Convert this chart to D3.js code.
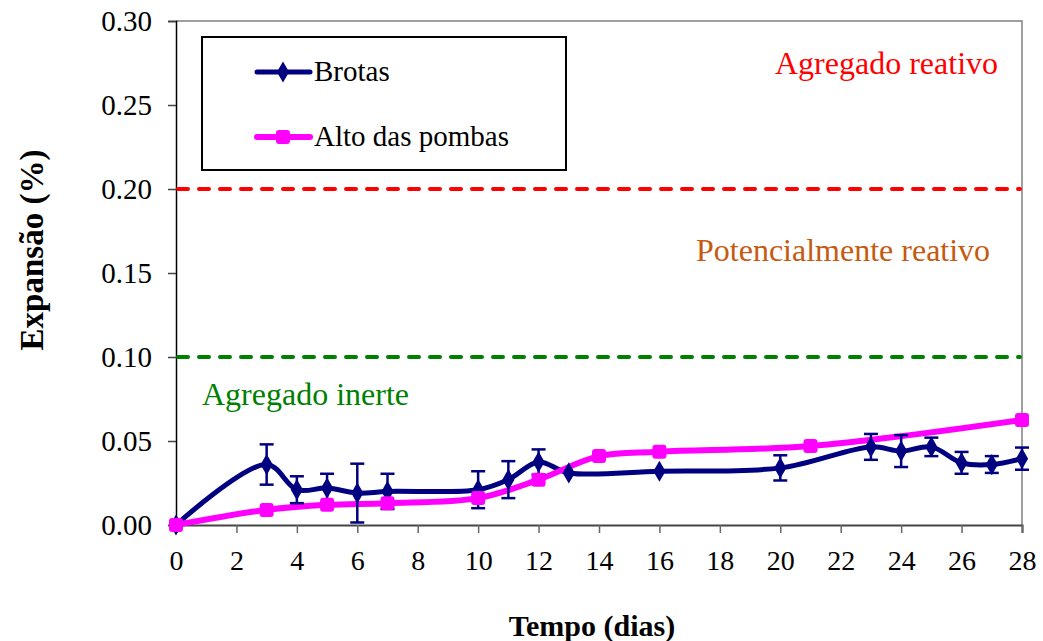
<!DOCTYPE html>
<html>
<head>
<meta charset="utf-8">
<script src="https://cdn.jsdelivr.net/npm/d3@7"></script>
<style>
  html, body { margin: 0; padding: 0; background: #fff; }
  svg { display: block; }
  svg text { font-family: "Liberation Serif", "DejaVu Serif", serif; }
</style>
</head>
<body>
<svg id="chart" width="1043" height="641"></svg>
<script>
// Expansion over time (days) for two aggregates
const brotasDays  = [0, 3, 4, 5, 6, 7, 10, 11, 12, 13, 16, 20, 23, 24, 25, 26, 27, 28];
const brotasVals  = [0.000, 0.036, 0.021, 0.022, 0.019, 0.020, 0.021, 0.027, 0.0375, 0.031, 0.032, 0.034, 0.0465, 0.044, 0.0465, 0.037, 0.036, 0.0395];
const brotasErr   = [0, 0.012, 0.008, 0.0085, 0.0175, 0.0105, 0.011, 0.011, 0.0075, 0, 0, 0.0075, 0.0077, 0.0095, 0.0055, 0.0065, 0.005, 0.0066];

const pombasDays  = [0, 3, 5, 7, 10, 12, 14, 16, 21, 28];
const pombasVals  = [0.000, 0.009, 0.012, 0.013, 0.016, 0.027, 0.041, 0.0436, 0.047, 0.0625];

// Classification limits
const limitValues = [0.10, 0.20];
const limitColors = ["#008000", "#FF0000"];

const xTicks = d3.range(0, 29, 2);
const yTicks = [0, 0.05, 0.10, 0.15, 0.20, 0.25, 0.30];

const SERIF = "Liberation Serif";

const svg = d3.select("#chart");
const margin = { left: 176, right: 21, top: 21, bottom: 116 };
const W = 1043, H = 641;
const iw = W - margin.left - margin.right;
const ih = H - margin.top - margin.bottom;

const x = d3.scaleLinear().domain([0, 28]).range([margin.left, margin.left + iw]);
const y = d3.scaleLinear().domain([0, 0.30]).range([margin.top + ih, margin.top]);

// plot area frame (top and right)
svg.append("path")
  .attr("d", `M${x(0)},${y(0.30)}H${x(28)}V${y(0)}`)
  .attr("fill", "none").attr("stroke", "#808080").attr("stroke-width", 1.5);

// Axes
const yAxis = svg.append("g")
  .attr("transform", `translate(${x(0)},0)`)
  .call(d3.axisLeft(y).tickValues(yTicks).tickFormat(d3.format(".2f")).tickSize(8).tickPadding(16));
yAxis.attr("font-family", SERIF);
yAxis.select(".domain").attr("stroke", "#000").attr("stroke-width", 1.5);
yAxis.selectAll(".tick line").attr("stroke", "#444").attr("stroke-width", 1.5);
yAxis.selectAll("text").attr("font-size", 29).attr("fill", "#000");

const xAxis = svg.append("g")
  .attr("transform", `translate(0,${y(0)})`)
  .call(d3.axisBottom(x).tickValues(xTicks).tickFormat(d3.format("d")).tickSize(8));
xAxis.attr("font-family", SERIF);
xAxis.select(".domain").attr("stroke", "#444").attr("stroke-width", 2);
xAxis.selectAll(".tick line").attr("stroke", "#666").attr("stroke-width", 1.5);
xAxis.selectAll("text").attr("font-size", 28).attr("fill", "#000").attr("y", 45).attr("dy", null);

// Limit lines
svg.selectAll("line.limit").data(limitValues).join("line")
  .attr("class", "limit")
  .attr("x1", x(0) + 2).attr("x2", x(28) - 2)
  .attr("y1", d => y(d)).attr("y2", d => y(d))
  .attr("stroke", (d, i) => limitColors[i])
  .attr("stroke-width", 4)
  .attr("stroke-linecap", "round")
  .attr("stroke-dasharray", "10,11");

// Zone labels
const zoneLabels = [
  { text: "Agregado reativo", x: 775, y: 74, color: "#FF0000" },
  { text: "Potencialmente reativo", x: 696, y: 261, color: "#C55A11" },
  { text: "Agregado inerte", x: 202, y: 405, color: "#008000" }
];
svg.selectAll("text.zone").data(zoneLabels).join("text")
  .attr("class", "zone")
  .attr("x", d => d.x).attr("y", d => d.y)
  .attr("fill", d => d.color)
  .attr("font-family", SERIF)
  .attr("font-size", 32)
  .text(d => d.text);

// Series
const brotas = brotasDays.map((d, i) => ({ x: d, y: brotasVals[i], e: brotasErr[i] }));
const pombas = pombasDays.map((d, i) => ({ x: d, y: pombasVals[i] }));

const line = d3.line().x(d => x(d.x)).y(d => y(d.y)).curve(d3.curveCatmullRom.alpha(0.5));

svg.append("path").datum(brotas)
  .attr("d", line).attr("fill", "none")
  .attr("stroke", "#000080").attr("stroke-width", 5).attr("stroke-linejoin", "round");

svg.append("path").datum(pombas)
  .attr("d", line).attr("fill", "none")
  .attr("stroke", "#FF00FF").attr("stroke-width", 6).attr("stroke-linejoin", "round");

// Error bars for Brotas
const eb = svg.append("g").attr("stroke", "#000080").attr("stroke-width", 2.5);
brotas.filter(d => d.e > 0).forEach(d => {
  const cx = x(d.x), t = y(d.y + d.e), b = y(d.y - d.e);
  eb.append("line").attr("x1", cx).attr("x2", cx).attr("y1", t).attr("y2", b);
  eb.append("line").attr("x1", cx - 7).attr("x2", cx + 7).attr("y1", t).attr("y2", t);
  eb.append("line").attr("x1", cx - 7).attr("x2", cx + 7).attr("y1", b).attr("y2", b);
});

// Markers
const diamond = d3.symbol().type(d3.symbolDiamond).size(130);
svg.append("g").selectAll("path").data(brotas).join("path")
  .attr("transform", d => `translate(${x(d.x)},${y(d.y)})`)
  .attr("d", diamond).attr("fill", "#000080");

svg.append("g").selectAll("rect").data(pombas).join("rect")
  .attr("x", d => x(d.x) - 7).attr("y", d => y(d.y) - 7)
  .attr("width", 14).attr("height", 14).attr("rx", 3)
  .attr("fill", "#FF00FF");

// Legend
const lg = svg.append("g");
lg.append("rect").attr("x", 202).attr("y", 37).attr("width", 364).attr("height", 133)
  .attr("fill", "#fff").attr("stroke", "#000").attr("stroke-width", 2);
const legendItems = [
  { name: "Brotas", color: "#000080", sw: 5, cy: 72, mark: "diamond" },
  { name: "Alto das pombas", color: "#FF00FF", sw: 6, cy: 137, mark: "square" }
];
legendItems.forEach(it => {
  lg.append("line").attr("x1", 257).attr("x2", 310).attr("y1", it.cy).attr("y2", it.cy)
    .attr("stroke", it.color).attr("stroke-width", it.sw).attr("stroke-linecap", "round");
  if (it.mark === "diamond") {
    lg.append("path").attr("transform", `translate(283,${it.cy})`).attr("d", diamond).attr("fill", it.color);
  } else {
    lg.append("rect").attr("x", 276).attr("y", it.cy - 7).attr("width", 14).attr("height", 14)
      .attr("rx", 3).attr("fill", it.color);
  }
  lg.append("text").attr("x", 314).attr("y", it.cy + 9)
    .attr("font-family", SERIF).attr("font-size", 29).attr("fill", "#000").text(it.name);
});

// Axis titles
svg.append("text")
  .attr("transform", `translate(43,250) rotate(-90)`)
  .attr("text-anchor", "middle").attr("font-family", SERIF)
  .attr("font-weight", "bold").attr("font-size", 33)
  .text("Expansão (%)");
svg.append("text")
  .attr("x", 592).attr("y", 636)
  .attr("text-anchor", "middle").attr("font-family", SERIF)
  .attr("font-weight", "bold").attr("font-size", 30)
  .text("Tempo (dias)");
</script>
</body>
</html>
